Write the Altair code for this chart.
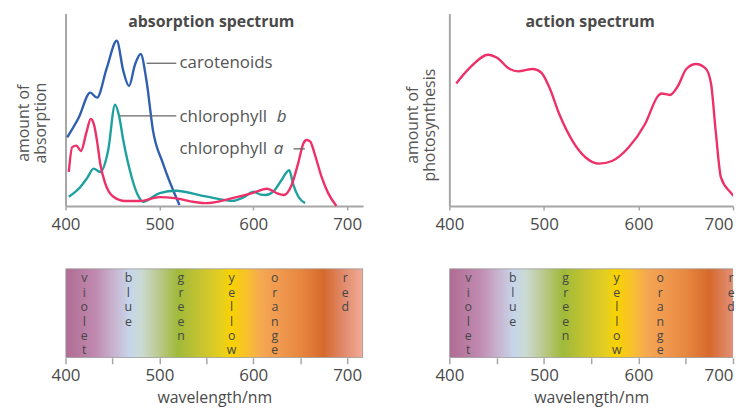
import altair as alt
import pandas as pd

FONT = "Open Sans"
TXT = "#4a4a4a"
AX = "#a6a6a6"

# ---------------- data ----------------
pigments = ["carotenoids", "chlorophyll b", "chlorophyll a"]
pigment_colors = ["#2f5fb0", "#1fa0a0", "#ee3069"]

car_nm = [401.8, 414, 426.4, 433.5, 444, 454.6, 461.6, 467.6, 474, 480, 486.3, 493.2, 503.8, 521.4]
car_val = [35.7, 45.9, 58.9, 56.3, 71.8, 85.9, 70.1, 62.4, 73.5, 79.0, 65.0, 39.2, 22.2, 0.5]

chlb_nm = [403.5, 415.8, 423, 429.9, 437, 445.4, 452.8, 457, 461.6, 470.4, 477, 482.7, 487.6,
           500.3, 518, 542.6, 563.7, 577.7, 590, 600.6, 608, 613, 621.8, 630, 638.3, 642.8,
           648.1, 655.2]
chlb_val = [4.8, 9.9, 14.5, 19.4, 17.7, 28.9, 52.6, 46.9, 34, 15.1, 5.7, 2.2, 3.1,
            6.7, 7.9, 5.7, 3.6, 2.7, 4.6, 7.4, 5.9, 5.7, 7.7, 13.4, 18.6, 10.8,
            4.8, 1.5]

chla_nm = [403.5, 407.1, 411.6, 416.4, 422.2, 426.9, 430.6, 433.5, 437, 442.2, 451, 463.4,
           479.2, 500.3, 516.2, 537.3, 549.6, 577.7, 598.8, 614.7, 624.9, 632.3, 640.8,
           648.1, 653.4, 656.9, 660.8, 665, 672.8, 679.8, 688.6]
chla_val = [17.7, 30.6, 31.4, 28.6, 38.1, 45.2, 41.8, 34, 22, 11.9, 4.8, 2.6,
            2.6, 4.6, 4.1, 2.1, 1.5, 4.1, 6.7, 9, 6.7, 5.7, 10.8,
            22.7, 32.5, 34.3, 33.5, 27.8, 15.1, 6.7, 0]

act_nm = [407.3, 422, 441.2, 450, 463.9, 472.6, 488.3, 497.1, 505.8, 516.2, 530.2, 544.2,
          558.1, 572, 589.5, 607, 620.9, 624.4, 633.2, 641.9, 650.6, 661, 671.5, 676.8,
          682, 687.3, 697.7, 706.5]
act_val = [63.7, 72, 78.6, 77.2, 71.2, 70, 71.2, 69.4, 61.6, 47.8, 33.9, 25.2,
           22, 23.4, 30.4, 42.6, 57.3, 58.5, 57.7, 62.5, 71.2, 73.8, 71.2, 63.4,
           37.3, 14.7, 6.9, 2.6]

x_labels = [400, 500, 600, 700]
bar_ticks = [400, 450, 500, 550, 600, 650, 700]

band_names = ["violet", "blue", "green", "yellow", "orange", "red"]
band_nm = [420, 467, 523, 577, 623, 698]

stop_nm = [400, 407, 432, 450, 468, 481, 499, 520, 545, 566, 576, 594, 608, 626, 650, 675, 696, 717]
stop_col = ["#b06e98", "#b47299", "#c08ab0", "#c8b0cc", "#c6d5ea", "#cbdad2", "#bcc98e",
            "#9fba3a", "#c8c430", "#e5cf20", "#f8d200", "#f8c030", "#f5a850", "#f09a50",
            "#e88840", "#d6692c", "#e08a6c", "#f2ac98"]

X_MIN, X_MAX = 400, 717      # left panels (full visible range)
X_MAX_R = 700                # right panels are cut at the picture edge

# ---------------- tables ----------------
abs_df = pd.concat([
    pd.DataFrame({"nm": car_nm, "val": car_val, "pigment": "carotenoids", "o": range(len(car_nm))}),
    pd.DataFrame({"nm": chlb_nm, "val": chlb_val, "pigment": "chlorophyll b", "o": range(len(chlb_nm))}),
    pd.DataFrame({"nm": chla_nm, "val": chla_val, "pigment": "chlorophyll a", "o": range(len(chla_nm))}),
])
act_df = pd.DataFrame({"nm": act_nm, "val": act_val})
band_df = pd.DataFrame({"nm": band_nm, "txt": ["\n".join(list(b)) for b in band_names]})
bar_df = pd.DataFrame({"x0": [X_MIN], "x1": [X_MAX]})

xs_l = alt.Scale(domain=[X_MIN, X_MAX], nice=False)
xs_r = alt.Scale(domain=[X_MIN, X_MAX_R], nice=False)
ys = alt.Scale(domain=[0, 100], nice=False)

W_L, W_R, H_TOP, H_BAR = 300, 286, 194, 90

ALIGN_R = {"condition": {"test": "datum.value === 700", "value": "right"}, "value": "center"}


def top_x_axis(right):
    kw = dict(values=x_labels, format="d", grid=False, title=None, labelFlush=False,
              domainColor=AX, domainWidth=2, tickColor=AX, tickWidth=1.5, tickSize=4,
              labelFont=FONT, labelFontSize=17, labelColor=TXT, labelPadding=7)
    if right:
        kw["labelAlign"] = ALIGN_R
    return alt.Axis(**kw)


def top_y_axis(title, pad, ty):
    return alt.Axis(labels=False, ticks=False, grid=False, title=title,
                    domainColor=AX, domainWidth=2,
                    titleFont=FONT, titleFontSize=16, titleFontWeight="normal",
                    titleColor="#555555", titlePadding=pad, titleLineHeight=17, titleY=ty)


# ----- absorption panel -----
abs_lines = alt.Chart(abs_df).mark_line(interpolate="monotone", strokeWidth=2.4).encode(
    x=alt.X("nm:Q", scale=xs_l, axis=top_x_axis(False)),
    y=alt.Y("val:Q", scale=ys, axis=top_y_axis(["amount of", "absorption"], 17, 110)),
    color=alt.Color("pigment:N", scale=alt.Scale(domain=pigments, range=pigment_colors), legend=None),
    order="o:Q",
)

lab_df = pd.DataFrame({"nm": [521.4, 521.4, 521.4], "val": [74.2, 46.4, 29.7],
                       "txt": ["carotenoids", "chlorophyll", "chlorophyll"]})
labels = alt.Chart(lab_df).mark_text(align="left", baseline="middle", font=FONT, fontSize=17,
                                     color="#555555").encode(
    x=alt.X("nm:Q", scale=xs_l), y=alt.Y("val:Q", scale=ys), text="txt:N")


def italic_letter(letter, val, gap):
    d = pd.DataFrame({"nm": [521.4], "val": [val], "txt": [letter]})
    return alt.Chart(d).mark_text(align="left", baseline="middle", font=FONT, fontSize=17,
                                  fontStyle="italic", color="#555555", dx=gap).encode(
        x=alt.X("nm:Q", scale=xs_l), y=alt.Y("val:Q", scale=ys), text="txt:N")


it_b = italic_letter("b", 46.4, 98)
it_a = italic_letter("a", 29.7, 95)

lead_df = pd.DataFrame({"x0": [486.3, 458, 643], "x1": [518, 518, 655], "val": [74.2, 46.9, 29.7]})
leaders = alt.Chart(lead_df).mark_rule(color="#666666", strokeWidth=1.3).encode(
    x=alt.X("x0:Q", scale=xs_l), x2="x1:Q", y=alt.Y("val:Q", scale=ys))

abs_title = alt.Chart(pd.DataFrame({"t": ["absorption spectrum"]})).mark_text(
    font=FONT, fontSize=16, fontWeight="bold", color=TXT, baseline="middle").encode(
    x=alt.value(147), y=alt.value(9), text="t:N")

abs_panel = alt.layer(abs_lines, leaders, labels, it_b, it_a, abs_title).properties(width=W_L, height=H_TOP)

# ----- action panel -----
act_line = alt.Chart(act_df).mark_line(interpolate="monotone", strokeWidth=2.4, color="#ee3069",
                                       clip=True).encode(
    x=alt.X("nm:Q", scale=xs_r, axis=top_x_axis(True)),
    y=alt.Y("val:Q", scale=ys, axis=top_y_axis(["amount of", "photosynthesis"], 12, 112)),
)
act_title = alt.Chart(pd.DataFrame({"t": ["action spectrum"]})).mark_text(
    font=FONT, fontSize=16, fontWeight="bold", color=TXT, baseline="middle").encode(
    x=alt.value(142), y=alt.value(9), text="t:N")
act_panel = alt.layer(act_line, act_title).properties(width=W_R, height=H_TOP)


# ----- spectrum bars -----
def spectrum_bar(xs, width, right):
    grad = alt.LinearGradient(
        gradient="linear", x1=0, x2=1, y1=0, y2=0,
        stops=[alt.GradientStop(offset=(n - X_MIN) / (X_MAX - X_MIN), color=c)
               for n, c in zip(stop_nm, stop_col)])
    ax = dict(values=bar_ticks, labelExpr="datum.value % 100 === 0 ? datum.label : ''",
              domain=False, grid=False, tickColor=AX, tickWidth=1.5, tickSize=6, labelFlush=False,
              labelFont=FONT, labelFontSize=17, labelColor=TXT, labelPadding=4,
              title="wavelength/nm", titleFont=FONT, titleFontSize=16, titleFontWeight="normal",
              titleColor=TXT, titlePadding=6)
    if right:
        ax["labelAlign"] = ALIGN_R
    rect = alt.Chart(bar_df).mark_rect(fill=grad, stroke="#999999", strokeWidth=1.5, clip=True).encode(
        x=alt.X("x0:Q", scale=xs, axis=alt.Axis(**ax)),
        x2="x1:Q",
        y=alt.value(0), y2=alt.value(H_BAR),
    )
    letters = alt.Chart(band_df).mark_text(
        font=FONT, fontSize=12.5, color="#474747", baseline="top", lineBreak="\n",
        lineHeight=14.5).encode(
        x=alt.X("nm:Q", scale=xs), y=alt.value(4), text="txt:N")
    return alt.layer(rect, letters).properties(width=width, height=H_BAR)


left = alt.vconcat(abs_panel, spectrum_bar(xs_l, W_L, False), spacing=36)
right = alt.vconcat(act_panel, spectrum_bar(xs_r, W_R, True), spacing=36)

chart = alt.hconcat(left, right, spacing=42).properties(
    padding={"left": 8, "top": 4, "right": 0, "bottom": 0}
).configure_view(stroke=None)

chart.save("out.html", embed_options={"renderer": "svg", "actions": False})
